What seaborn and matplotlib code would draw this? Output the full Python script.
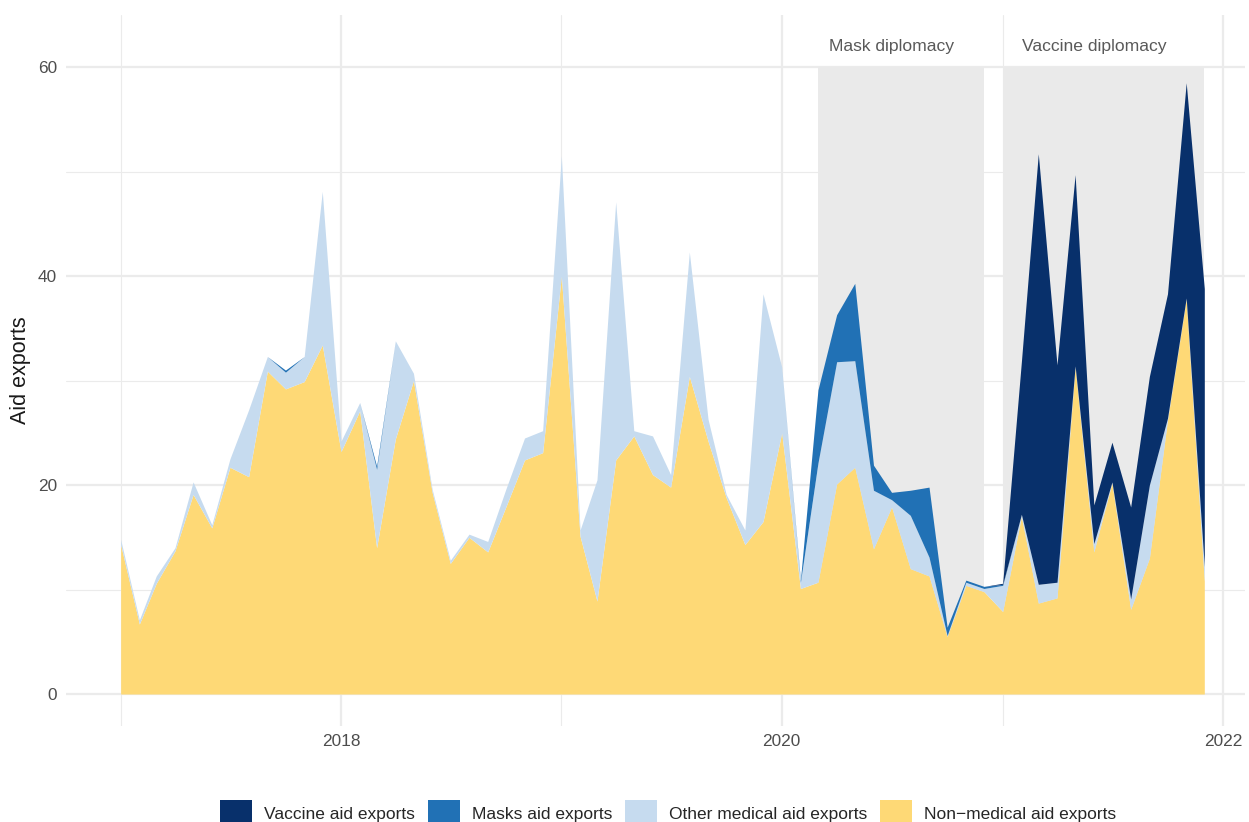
import numpy as np
import pandas as pd
import matplotlib
matplotlib.use("Agg")
import matplotlib.pyplot as plt
import matplotlib.dates as mdates
from matplotlib.patches import Patch
import seaborn as sns

# ---------------- data (monthly, Jan 2017 - Dec 2021) ----------------
start_month = "2017-01-01"
n_months = 60

non_medical = [14.3, 6.7, 10.6, 13.7, 19.1, 15.9, 21.7, 20.8, 30.9, 29.2,
               29.9, 33.4, 23.2, 27.1, 14.0, 24.4, 30.0, 19.3, 12.5, 15.0,
               13.6, 17.9, 22.4, 23.1, 40.0, 15.1, 8.9, 22.4, 24.7, 21.0,
               19.8, 30.4, 24.2, 18.8, 14.3, 16.5, 25.0, 10.1, 10.7, 20.1,
               21.7, 13.9, 17.9, 12.0, 11.3, 5.5, 10.4, 9.8, 7.9, 17.0,
               8.7, 9.2, 31.3, 13.6, 20.2, 8.1, 13.0, 26.2, 37.8, 10.8]

other_medical = [0.5, 0.4, 0.7, 0.3, 1.2, 0.3, 0.8, 6.4, 1.4, 1.6,
                 2.4, 14.7, 1.0, 0.8, 7.5, 9.4, 0.7, 0.3, 0.3, 0.3,
                 1.0, 1.7, 2.1, 2.1, 11.5, 0.6, 11.6, 24.7, 0.5, 3.7,
                 1.2, 11.9, 2.1, 0.3, 1.4, 21.8, 6.3, 0.6, 11.4, 11.7,
                 10.2, 5.6, 0.7, 5.1, 1.8, 0.1, 0.3, 0.3, 2.5, 0.2,
                 1.8, 1.5, 0.1, 0.8, 0.1, 1.0, 7.0, 0.2, 0.1, 1.4]

masks = [0, 0, 0, 0, 0, 0, 0, 0, 0, 0.2,
         0, 0, 0, 0, 0.3, 0, 0, 0, 0, 0,
         0, 0, 0, 0, 0, 0, 0, 0, 0, 0,
         0, 0, 0, 0, 0, 0, 0, 0.2, 7.0, 4.5,
         7.4, 2.4, 0.7, 2.4, 6.7, 0.8, 0.2, 0.2, 0.1, 0,
         0, 0, 0, 0, 0, 0, 0, 0, 0, 0]

vaccine = [0] * 48 + [0.1, 14.6, 41.2, 20.8, 18.3, 3.7, 3.8, 8.8, 10.4, 11.9,
                      20.6, 26.6]

series_names = ["Non\u2212medical aid exports", "Other medical aid exports",
                "Masks aid exports", "Vaccine aid exports"]
series_colors = ["#FED976", "#C6DBEF", "#2171B5", "#08306B"]

periods = [("2020-03-01", "2020-12-01", "Mask diplomacy", "2020-07-01"),
           ("2021-01-01", "2021-12-01", "Vaccine diplomacy", "2021-06-01")]
period_top = 60
label_y = 62

y_ticks = [0, 20, 40, 60]
y_minor = [10, 30, 50]
x_major_years = [2018, 2020, 2022]
x_minor_years = [2017, 2019, 2021]

# ---------------- style ----------------
sns.set_theme(style="white")
plt.rcParams["font.family"] = ["Liberation Sans", "DejaVu Sans"]

dates = pd.date_range(start_month, periods=n_months, freq="MS")
xnum = mdates.date2num(dates.to_pydatetime())

fig = plt.figure(figsize=(12.49, 8.22), dpi=100)
ax = fig.add_axes([66 / 1249, 1 - 726 / 822, (1245 - 66) / 1249, (726 - 15) / 822])

grid_c = "#EBEBEB"
# grid lines
for v in y_ticks:
    ax.axhline(v, color=grid_c, lw=1.6, zorder=0.5)
for v in y_minor:
    ax.axhline(v, color=grid_c, lw=0.8, zorder=0.5)
for yr in x_major_years:
    ax.axvline(mdates.date2num(pd.Timestamp(f"{yr}-01-01")), color=grid_c, lw=1.6, zorder=0.5)
for yr in x_minor_years:
    ax.axvline(mdates.date2num(pd.Timestamp(f"{yr}-01-01")), color=grid_c, lw=0.8, zorder=0.5)

# shaded periods
for s, e, lab, lx in periods:
    xs = mdates.date2num(pd.Timestamp(s))
    xe = mdates.date2num(pd.Timestamp(e))
    ax.fill_between([xs, xe], 0, period_top, color="#EAEAEA", lw=0, zorder=1)
    ax.text(mdates.date2num(pd.Timestamp(lx)), label_y, lab, ha="center", va="center",
            fontsize=12.6, color="#595959", zorder=3)

ax.stackplot(xnum, np.array(non_medical), np.array(other_medical), np.array(masks),
             np.array(vaccine), colors=series_colors, lw=0, zorder=2)

x0 = mdates.date2num(pd.Timestamp("2018-01-01"))
x1 = mdates.date2num(pd.Timestamp("2022-01-01"))
ax.set_xlim(x0 - 455.5, x1 + 36.4)
ax.set_ylim(-3.06, 64.98)

ax.set_yticks(y_ticks)
ax.set_yticklabels([str(v) for v in y_ticks])
ax.set_xticks([mdates.date2num(pd.Timestamp(f"{yr}-01-01")) for yr in x_major_years])
ax.set_xticklabels([str(yr) for yr in x_major_years])
ax.tick_params(axis="both", length=0, labelsize=12.4, labelcolor="#4D4D4D")
ax.tick_params(axis="y", pad=6.5)
ax.tick_params(axis="x", pad=5.5)
ax.grid(False)
for sp in ax.spines.values():
    sp.set_visible(False)

ax.set_xlabel("")
ax.set_ylabel("Aid exports", fontsize=15.5, color="#1A1A1A")
ax.yaxis.set_label_coords(-0.039, 0.5)
ax.yaxis.label.set_verticalalignment("center")

handles = [Patch(facecolor=series_colors[i], edgecolor="none", label=series_names[i])
           for i in [3, 2, 1, 0]]
fig.legend(handles=handles, loc="center", bbox_to_anchor=(668 / 1249, 1 - 813 / 822),
           ncol=4, frameon=False, fontsize=12.5, handlelength=1.84, handleheight=1.84,
           handletextpad=0.69, columnspacing=0.75, borderpad=0, borderaxespad=0)

fig.savefig("out.png", dpi=100)
